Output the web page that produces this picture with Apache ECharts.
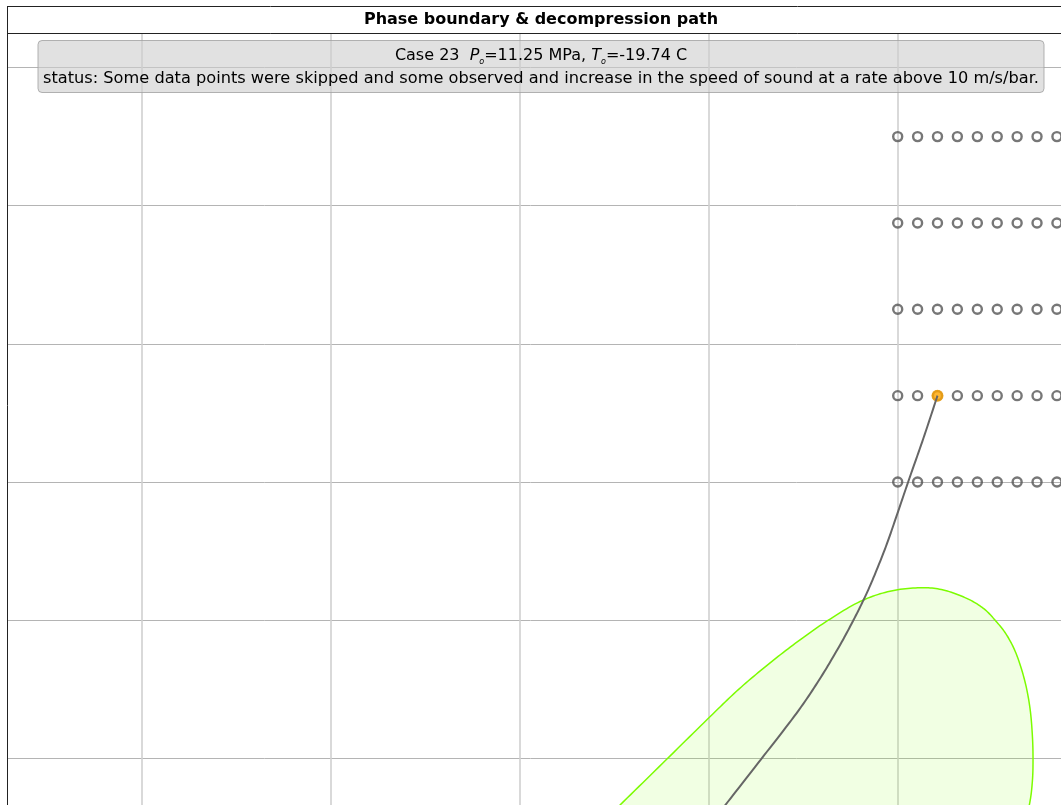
<!DOCTYPE html>
<html>
<head>
<meta charset="utf-8">
<title>Phase boundary & decompression path</title>
<script src="https://cdn.jsdelivr.net/npm/echarts@6/dist/echarts.min.js"></script>
<style>
  html, body { margin: 0; padding: 0; background: #fff; }
  #chart { width: 1061px; height: 805px; }
</style>
</head>
<body>
<div id="chart"></div>
<script>
// Test matrix: initial pressures (MPa) and temperatures (C)
const gridPressures = [10.0, 11.25, 12.5, 13.75, 15.0];
const gridTemperatures = [-25.0, -22.37, -19.74, -17.11, -14.47, -11.84, -9.21, -6.58, -3.95];

// Selected case
const caseNumber = 23;
const caseP0 = 11.25;
const caseT0 = -19.74;
const statusText = 'status: Some data points were skipped and some observed and increase in the speed of sound at a rate above 10 m/s/bar.';

// Phase envelope (T in C, P in MPa), traced as a closed loop
const envelopeT = [-66.3, -61.71, -55.54, -49.82, -46.03, -42.11, -38.19, -34.28, -29.98, -26.02, -22.05, -18.97, -15.88, -13.68, -12.14, -10.59, -9.27, -8.17, -7.51, -7.20, -7.11, -7.20, -7.60, -8.83, -14.0, -30.0, -50.0];
const envelopeP = [4.83, 5.324, 5.986, 6.602, 6.998, 7.361, 7.693, 7.992, 8.270, 8.419, 8.470, 8.437, 8.316, 8.172, 8.002, 7.785, 7.496, 7.109, 6.724, 6.338, 5.99, 5.662, 5.324, 4.745, 4.4, 4.3, 4.4];

// Decompression path from the initial state
const pathT = [-19.74, -21.59, -23.53, -25.03, -26.57, -28.33, -29.52, -30.84, -32.75, -35.39, -38.38, -43.07, -47.79, -51.0];
const pathP = [11.25, 10.637, 10.029, 9.547, 9.063, 8.581, 8.292, 8.002, 7.616, 7.134, 6.652, 5.986, 5.324, 4.875];

const chart = echarts.init(document.getElementById('chart'));

const matrixData = [];
gridPressures.forEach(p => gridTemperatures.forEach(t => matrixData.push([t, p])));

const envelopeData = envelopeT.map((t, i) => [t, envelopeP[i]]);
const pathData = pathT.map((t, i) => [t, pathP[i]]);

// Catmull-Rom curve through pixel points, for drawing smooth outlines
function spline(pts, closed, steps) {
  const out = [];
  const n = pts.length;
  const at = i => closed ? pts[(i + n) % n] : pts[Math.max(0, Math.min(n - 1, i))];
  const last = closed ? n : n - 1;
  for (let i = 0; i < last; i++) {
    const p0 = at(i - 1), p1 = at(i), p2 = at(i + 1), p3 = at(i + 2);
    for (let s = 0; s < steps; s++) {
      const t = s / steps, t2 = t * t, t3 = t2 * t;
      const f = (a, b, c, d) => 0.5 * ((2 * b) + (-a + c) * t + (2 * a - 5 * b + 4 * c - d) * t2 + (-a + 3 * b - 3 * c + d) * t3);
      out.push([f(p0[0], p1[0], p2[0], p3[0]), f(p0[1], p1[1], p2[1], p3[1])]);
    }
  }
  if (!closed) out.push(pts[n - 1]);
  return out;
}

const FONT = '"DejaVu Sans", "Liberation Sans", sans-serif';

const option = {
  backgroundColor: '#ffffff',
  animation: false,
  grid: {
    left: -47.85, right: -13.4, top: 33, bottom: -91.5,
    containLabel: false,
    outerBoundsMode: 'none'
  },
  xAxis: {
    type: 'value',
    min: -150, max: -1.64, interval: 25,
    axisLine: { show: false }, axisTick: { show: false }, axisLabel: { show: false },
    splitLine: { show: true, lineStyle: { color: '#d0d0d0', width: 1.6 } }
  },
  yAxis: {
    type: 'value',
    min: 4, max: 16.5, interval: 2,
    axisLine: { show: false }, axisTick: { show: false }, axisLabel: { show: false },
    splitLine: { show: true, lineStyle: { color: '#b4b4b4', width: 1 } }
  },
  series: [
    {
      name: 'envelope',
      type: 'custom',
      z: 2,
      data: envelopeData,
      encode: { x: 0, y: 1 },
      renderItem: function (params, api) {
        if (params.dataIndex !== 0) return null;
        const pts = spline(envelopeData.map(d => api.coord(d)), true, 12);
        return {
          type: 'polygon',
          shape: { points: pts },
          style: { fill: 'rgba(124,252,0,0.11)', stroke: '#7cfc00', lineWidth: 1.5 }
        };
      }
    },
    {
      name: 'matrix',
      type: 'scatter',
      z: 3,
      symbol: 'circle',
      symbolSize: 9,
      itemStyle: { color: 'rgba(0,0,0,0)', borderColor: '#555555', borderWidth: 2.4 },
      data: matrixData
    },
    {
      name: 'initial state',
      type: 'scatter',
      z: 4,
      symbol: 'circle',
      symbolSize: 12,
      itemStyle: { color: '#ffa500' },
      data: [[caseT0, caseP0]]
    },
    {
      name: 'path',
      type: 'custom',
      z: 5,
      data: pathData,
      encode: { x: 0, y: 1 },
      renderItem: function (params, api) {
        if (params.dataIndex !== 0) return null;
        const pts = spline(pathData.map(d => api.coord(d)), false, 12);
        return {
          type: 'polyline',
          shape: { points: pts },
          style: { fill: null, stroke: '#666666', lineWidth: 2 }
        };
      }
    }
  ],
  graphic: [
    // blank margin left of the frame
    { type: 'rect', z: 50, shape: { x: 0, y: 0, width: 7, height: 805 }, style: { fill: '#ffffff' } },
    // frame lines
    { type: 'line', z: 60, shape: { x1: 7, y1: 6.5, x2: 1061, y2: 6.5 }, style: { stroke: '#222', lineWidth: 1 } },
    { type: 'line', z: 60, shape: { x1: 7.5, y1: 6, x2: 7.5, y2: 805 }, style: { stroke: '#222', lineWidth: 1 } },
    { type: 'line', z: 60, shape: { x1: 7, y1: 33.5, x2: 1061, y2: 33.5 }, style: { stroke: '#222', lineWidth: 1 } },
    // title
    {
      type: 'text', z: 60, x: 541, y: 20,
      style: {
        text: 'Phase boundary & decompression path',
        font: 'bold 16px ' + FONT, fill: '#000', align: 'center', verticalAlign: 'middle'
      }
    },
    // case info box
    {
      type: 'rect', z: 40,
      shape: { x: 38, y: 40.5, width: 1006, height: 52, r: 4 },
      style: { fill: 'rgba(205,205,205,0.6)', stroke: 'rgba(160,160,160,0.8)', lineWidth: 1 }
    },
    {
      type: 'text', z: 41, x: 541, y: 56,
      style: {
        text: '{n|Case ' + caseNumber + '  }{i|P}{s|o}{n|=' + caseP0.toFixed(2) + ' MPa, }{i|T}{s|o}{n|=' + caseT0.toFixed(2) + ' C}',
        align: 'center', verticalAlign: 'middle',
        rich: {
          n: { fontFamily: FONT, fontSize: 16, color: '#000', lineHeight: 20 },
          i: { fontFamily: FONT, fontSize: 16, fontStyle: 'italic', color: '#000', lineHeight: 20 },
          s: { fontFamily: FONT, fontSize: 8, fontStyle: 'italic', color: '#000', lineHeight: 8, verticalAlign: 'bottom' }
        }
      }
    },
    {
      type: 'text', z: 41, x: 541, y: 78.5,
      style: {
        text: statusText,
        font: '16.2px ' + FONT, fill: '#000', align: 'center', verticalAlign: 'middle'
      }
    }
  ]
};

chart.setOption(option);
</script>
</body>
</html>
